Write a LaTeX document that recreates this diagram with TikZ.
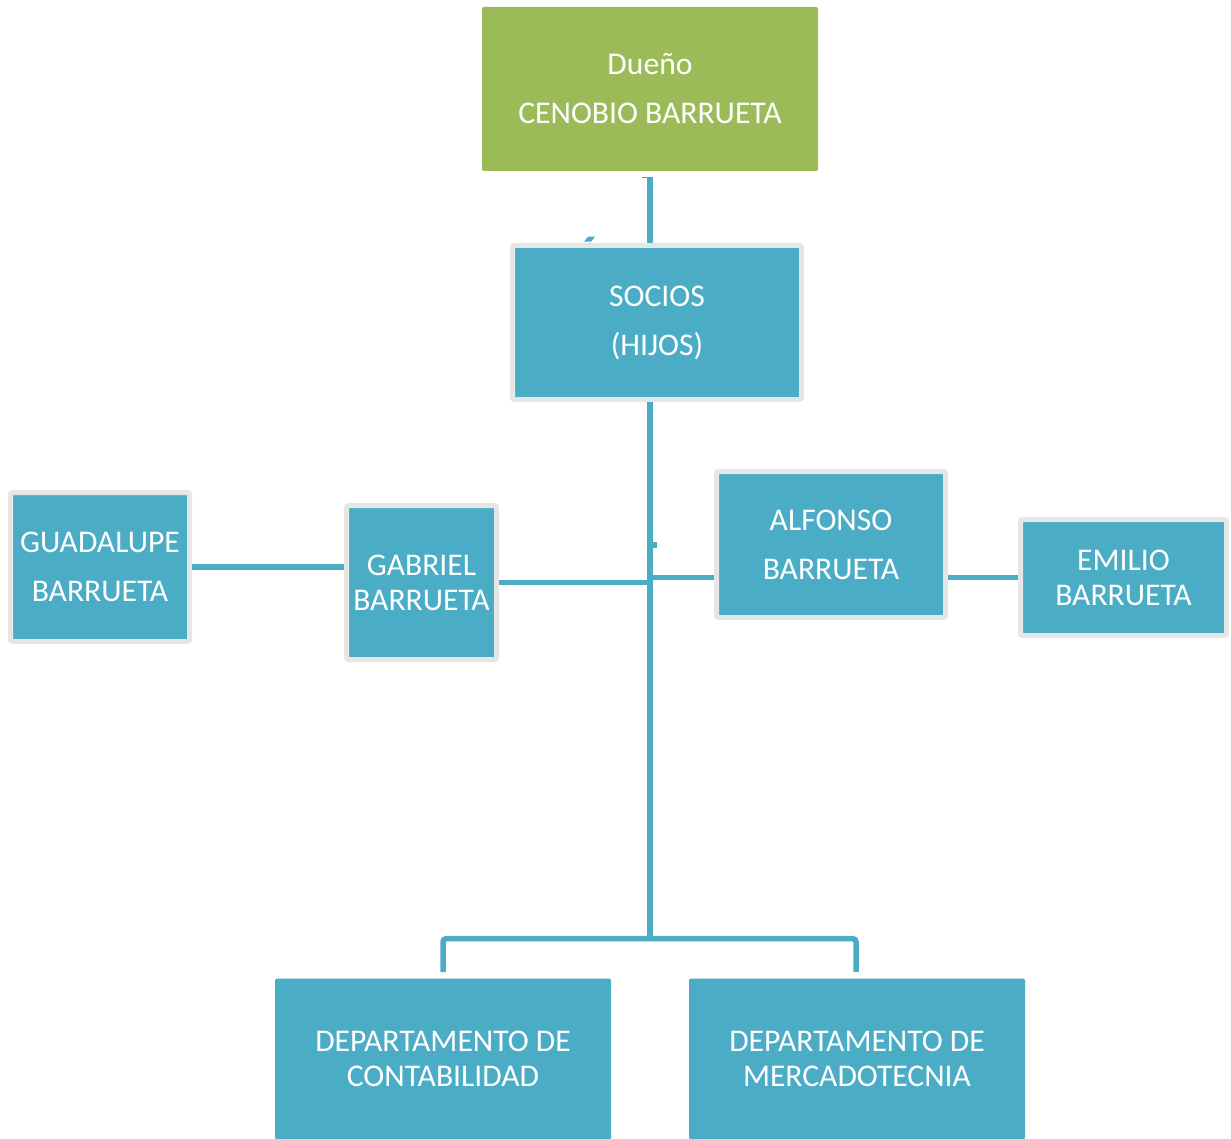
\documentclass[tikz,border=0pt]{standalone}
\usepackage{fontspec}
\setmainfont{Carlito}
\definecolor{boxblue}{HTML}{4BACC6}
\definecolor{boxgreen}{HTML}{9BBB59}
\definecolor{boxedge}{HTML}{E6E6E6}

\begin{document}
\begin{tikzpicture}[x=1pt,y=-1pt,
  chartbox/.style={fill=boxblue,draw=boxedge,line width=5pt,rounded corners=2pt,
    text=white,align=center,inner sep=0pt,font=\fontsize{31.6}{35}\selectfont},
  plainbox/.style={chartbox,draw=none},
  link/.style={draw=boxblue,line width=5.5pt}]
\useasboundingbox (0,0) rectangle (1231,1139);

\node[plainbox,fill=boxgreen,minimum width=336,minimum height=164] (dueno) at (650,89)
  {Dueño\\[14pt]CENOBIO BARRUETA};
\node[chartbox,minimum width=289,minimum height=154] (socios) at (657,322.5)
  {SOCIOS\\[14pt](HIJOS)};
\node[chartbox,minimum width=179,minimum height=149] (guadalupe) at (100,567)
  {GUADALUPE\\[14pt]BARRUETA};
\node[chartbox,minimum width=150,minimum height=154] (gabriel) at (421.5,582.5)
  {GABRIEL\\BARRUETA};
\node[chartbox,minimum width=229,minimum height=146] (alfonso) at (831,544.5)
  {ALFONSO\\[14pt]BARRUETA};
\node[chartbox,minimum width=206,minimum height=116] (emilio) at (1123.5,577.5)
  {EMILIO\\BARRUETA};
\node[plainbox,minimum width=336,minimum height=161] (conta) at (443,1059)
  {DEPARTAMENTO DE\\CONTABILIDAD};
\node[plainbox,minimum width=336,minimum height=161] (merca) at (857,1059)
  {DEPARTAMENTO DE\\MERCADOTECNIA};

% trunk
\coordinate (toptip) at (650,177);
\coordinate (fork) at (650,938.7);
\draw[link] (toptip) -- (toptip |- socios.north);
\draw[line width=1.5pt,boxblue] (642,177.5) -- (650,177.5);
\fill[boxblue] (584,241.7) -- (591,241.7) -- (595,236.7) -- (588,236.7) -- cycle;
\draw[link] (socios.south -| fork) -- (fork);
\draw[link,rounded corners=3pt] (443,972) -- (443,938.7) -- (856,938.7) -- (856,972);

% side branches
\coordinate (armR) at (653,577.5);
\draw[link] (650,545) -- (657,545);
\draw[link] (gabriel.east) -- (gabriel.east -| fork);
\draw[link] (armR) -- (armR -| alfonso.west);
\draw[link] (emilio.west) -- (emilio.west -| alfonso.east);
\draw[link] (guadalupe.east) -- (guadalupe.east -| gabriel.west);

\end{tikzpicture}
\end{document}
